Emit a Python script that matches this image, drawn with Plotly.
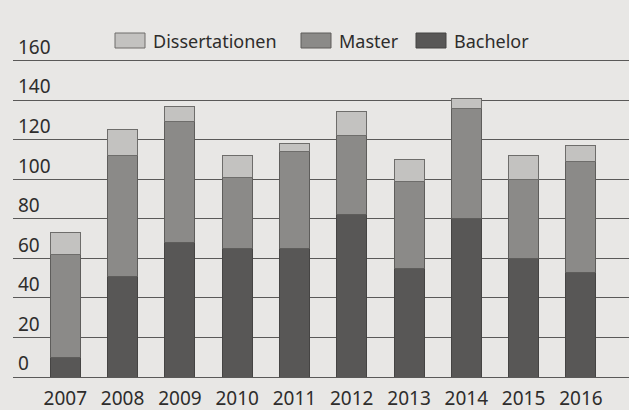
import plotly.graph_objects as go

years = ["2007", "2008", "2009", "2010", "2011", "2012", "2013", "2014", "2015", "2016"]
bachelor = [10, 51, 68, 65, 65, 82, 55, 80, 60, 53]
master = [52, 61, 61, 36, 49, 40, 44, 56, 40, 56]
dissertationen = [11, 13, 8, 11, 4, 12, 11, 5, 12, 8]

series_names = ["Bachelor", "Master", "Dissertationen"]
series_values = [bachelor, master, dissertationen]
fill_colors = ["#585756", "#8b8a88", "#c3c2c0"]
line_colors = ["#454443", "#5e5d5b", "#6e6d6b"]

y_ticks = [0, 20, 40, 60, 80, 100, 120, 140, 160, 180]
y_ticktext = ["0", "20", "40", "60", "80", "100", "120", "140", "160", ""]

bg = "#e8e7e5"
grid_color = "#5a5958"
text_color = "#2e2d2c"
font_family = "Noto Sans, Open Sans, DejaVu Sans, sans-serif"

fig = go.Figure()
for name, vals, fc, lc in zip(series_names, series_values, fill_colors, line_colors):
    fig.add_trace(go.Bar(
        x=list(range(len(years))), y=vals, name=name,
        marker=dict(color=fc, line=dict(color=lc, width=1)),
        showlegend=False,
    ))

# custom legend (order: Dissertationen, Master, Bachelor)
legend_items = [("Dissertationen", 2), ("Master", 1), ("Bachelor", 0)]
L, R, T, B = 13, 0, 21, 33
W, H = 629, 410
pw, ph = W - L - R, H - T - B
def px_x(x):
    return (x - L) / pw
def px_y(y):
    return (H - B - y) / ph
box_x = [115, 301, 416]
for (label, idx), bx in zip(legend_items, box_x):
    fig.add_shape(type="rect", xref="paper", yref="paper",
                  x0=px_x(bx), x1=px_x(bx + 30), y0=px_y(48), y1=px_y(33),
                  fillcolor=fill_colors[idx], line=dict(color=line_colors[idx], width=1))
    fig.add_annotation(xref="paper", yref="paper", x=px_x(bx + 36), y=px_y(40.5),
                       text=label, showarrow=False, xanchor="left", yanchor="middle",
                       font=dict(size=18, color=text_color, family=font_family))

fig.update_layout(
    width=W, height=H,
    margin=dict(l=L, r=R, t=T, b=B),
    barmode="stack",
    bargap=0.476,
    paper_bgcolor=bg,
    plot_bgcolor=bg,
    font=dict(family=font_family, size=18, color=text_color),
    xaxis=dict(
        tickmode="array", tickvals=list(range(len(years))), ticktext=years,
        range=[-0.913, 9.84], showgrid=False, zeroline=False, showline=False,
        ticks="", ticklabelstandoff=8, tickfont=dict(size=19, color=text_color),
    ),
    yaxis=dict(
        range=[0, 180], tickmode="array", tickvals=y_ticks, ticktext=y_ticktext,
        ticklabelposition="inside top", ticklabelstandoff=2,
        showgrid=True, gridcolor=grid_color, gridwidth=1.4,
        zeroline=True, zerolinecolor=grid_color, zerolinewidth=1.4,
        tickfont=dict(size=19, color=text_color), ticks="", showline=False,
    ),
)

fig.write_html("out.html")
